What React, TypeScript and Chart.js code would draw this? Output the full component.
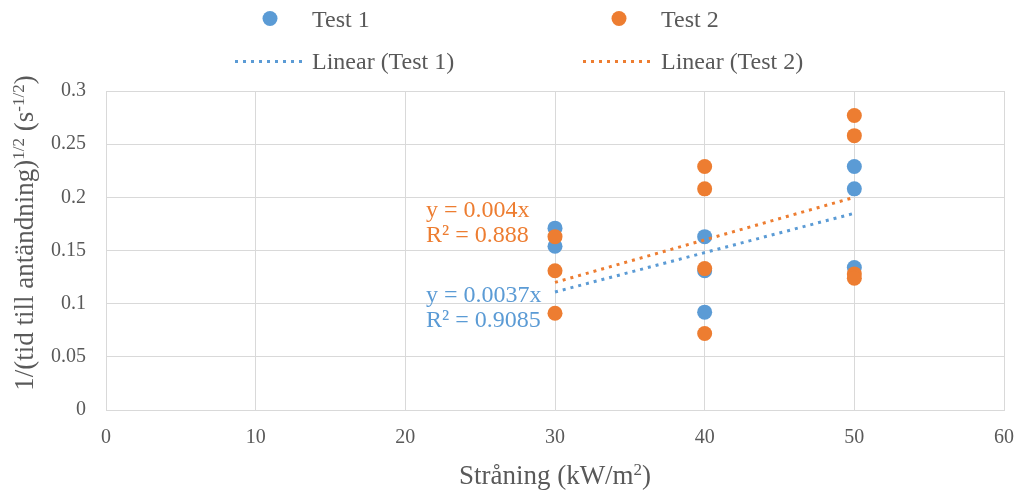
import React, { useEffect, useRef } from "react";
import { Chart, registerables } from "chart.js";

Chart.register(...registerables);

const test1X = [30, 30, 40, 40, 40, 50, 50, 50];
const test1Y = [0.171, 0.154, 0.163, 0.131, 0.092, 0.229, 0.208, 0.134];
const test2X = [30, 30, 30, 40, 40, 40, 40, 50, 50, 50, 50];
const test2Y = [0.163, 0.131, 0.091, 0.229, 0.208, 0.133, 0.072, 0.277, 0.258, 0.128, 0.124];
const slope1 = 0.0037;
const slope2 = 0.004;
const r2Test1 = "0.9085";
const r2Test2 = "0.888";
const trendRange = [30, 50];
const xTicks = [0, 10, 20, 30, 40, 50, 60];
const yTicks = [0, 0.05, 0.1, 0.15, 0.2, 0.25, 0.3];

const BLUE = "#5b9bd5";
const ORANGE = "#ed7d31";
const TEXT = "#595959";
const GRID = "#d9d9d9";
const FONT = "'Liberation Serif', 'Times New Roman', serif";

type Run = { t: string; sup?: boolean };

function runWidth(ctx: CanvasRenderingContext2D, runs: Run[], size: number, supSize: number) {
  let w = 0;
  for (const r of runs) {
    ctx.font = `${r.sup ? supSize : size}px ${FONT}`;
    w += ctx.measureText(r.t).width;
  }
  return w;
}

function drawRuns(
  ctx: CanvasRenderingContext2D,
  runs: Run[],
  x: number,
  y: number,
  size: number,
  supSize: number,
  raise: number
) {
  ctx.textBaseline = "alphabetic";
  ctx.textAlign = "left";
  let cx = x;
  for (const r of runs) {
    ctx.font = `${r.sup ? supSize : size}px ${FONT}`;
    ctx.fillText(r.t, cx, r.sup ? y - raise : y);
    cx += ctx.measureText(r.t).width;
  }
}

const decorPlugin = {
  id: "decor",
  afterDraw(chart: any) {
    const ctx: CanvasRenderingContext2D = chart.ctx;
    const area = chart.chartArea;
    ctx.save();
    ctx.fillStyle = TEXT;

    // X axis title
    const xRuns: Run[] = [{ t: "Stråning (kW/m" }, { t: "2", sup: true }, { t: ")" }];
    const xw = runWidth(ctx, xRuns, 27, 17);
    drawRuns(ctx, xRuns, (area.left + area.right) / 2 - xw / 2, 484, 27, 17, 9);

    // Y axis title
    const yRuns: Run[] = [
      { t: "1/(tid till antändning)" },
      { t: "1/2", sup: true },
      { t: " (s" },
      { t: "-1/2", sup: true },
      { t: ")" },
    ];
    const yw = runWidth(ctx, yRuns, 27, 17);
    ctx.save();
    ctx.translate(33, 233);
    ctx.rotate(-Math.PI / 2);
    ctx.fillStyle = TEXT;
    drawRuns(ctx, yRuns, -yw / 2, 0, 27, 17, 9);
    ctx.restore();

    // Legend
    ctx.fillStyle = BLUE;
    ctx.beginPath();
    ctx.arc(270, 18.5, 7.5, 0, Math.PI * 2);
    ctx.fill();
    ctx.fillStyle = ORANGE;
    ctx.beginPath();
    ctx.arc(619, 18.5, 7.5, 0, Math.PI * 2);
    ctx.fill();
    ctx.lineWidth = 3;
    ctx.setLineDash([3, 5]);
    ctx.strokeStyle = BLUE;
    ctx.beginPath();
    ctx.moveTo(235, 61.5);
    ctx.lineTo(306, 61.5);
    ctx.stroke();
    ctx.strokeStyle = ORANGE;
    ctx.beginPath();
    ctx.moveTo(583, 61.5);
    ctx.lineTo(655, 61.5);
    ctx.stroke();
    ctx.setLineDash([]);
    ctx.fillStyle = TEXT;
    ctx.font = `24px ${FONT}`;
    ctx.textBaseline = "alphabetic";
    ctx.textAlign = "left";
    ctx.fillText("Test 1", 312, 27);
    ctx.fillText("Test 2", 661, 27);
    ctx.fillText("Linear (Test 1)", 312, 69);
    ctx.fillText("Linear (Test 2)", 661, 69);

    // Trendline labels
    ctx.fillStyle = ORANGE;
    ctx.fillText(`y = ${slope2}x`, 426, 217);
    ctx.fillText(`R² = ${r2Test2}`, 426, 242);
    ctx.fillStyle = BLUE;
    ctx.fillText(`y = ${slope1}x`, 426, 302);
    ctx.fillText(`R² = ${r2Test1}`, 426, 327);
    ctx.restore();
  },
};

export default function App() {
  const ref = useRef<HTMLCanvasElement>(null);
  useEffect(() => {
    if (!ref.current) return;
    const pts = (xs: number[], ys: number[]) => xs.map((x, i) => ({ x, y: ys[i] }));
    const trend = (m: number) => trendRange.map((x) => ({ x, y: m * x }));
    const chart = new Chart(ref.current, {
      type: "scatter",
      data: {
        datasets: [
          {
            label: "Test 1",
            data: pts(test1X, test1Y),
            backgroundColor: BLUE,
            borderColor: BLUE,
            pointRadius: 7.5,
            borderWidth: 0,
            order: 4,
          },
          {
            label: "Test 2",
            data: pts(test2X, test2Y),
            backgroundColor: ORANGE,
            borderColor: ORANGE,
            pointRadius: 7.5,
            borderWidth: 0,
            order: 3,
          },
          {
            label: "Linear (Test 1)",
            data: trend(slope1),
            showLine: true,
            borderColor: BLUE,
            borderWidth: 3,
            borderDash: [3, 5],
            pointRadius: 0,
            order: 2,
          },
          {
            label: "Linear (Test 2)",
            data: trend(slope2),
            showLine: true,
            borderColor: ORANGE,
            borderWidth: 3,
            borderDash: [3, 5],
            pointRadius: 0,
            order: 1,
          },
        ] as any,
      },
      options: {
        animation: false,
        responsive: false,
        layout: { padding: { top: 91, right: 17, left: 0, bottom: 0 } },
        plugins: { legend: { display: false }, tooltip: { enabled: false } },
        scales: {
          x: {
            type: "linear",
            min: 0,
            max: 60,
            afterFit: (s: any) => {
              s.height = 82;
              s.paddingLeft = 0;
              s.paddingRight = 0;
            },
            afterBuildTicks: (s: any) => {
              s.ticks = xTicks.map((v) => ({ value: v }));
            },
            grid: { color: GRID, lineWidth: 1, drawTicks: false },
            border: { color: GRID, width: 1 },
            ticks: { color: TEXT, font: { size: 20, family: FONT }, padding: 16 },
          },
          y: {
            type: "linear",
            min: 0,
            max: 0.3,
            afterFit: (s: any) => {
              s.width = 106;
              s.paddingTop = 0;
              s.paddingBottom = 0;
            },
            afterBuildTicks: (s: any) => {
              s.ticks = yTicks.map((v) => ({ value: v }));
            },
            grid: { color: GRID, lineWidth: 1, drawTicks: false },
            border: { color: GRID, width: 1 },
            ticks: {
              color: TEXT,
              font: { size: 20, family: FONT },
              padding: 20,
              callback: (v: any) => String(Number(Number(v).toFixed(2))),
            },
          },
        },
      },
      plugins: [decorPlugin],
    });
    return () => chart.destroy();
  }, []);
  return (
    <div style={{ position: "fixed", left: 0, top: 0, width: 1021, height: 492 }}>
      <canvas ref={ref} width={1021} height={492} style={{ display: "block" }} />
    </div>
  );
}
